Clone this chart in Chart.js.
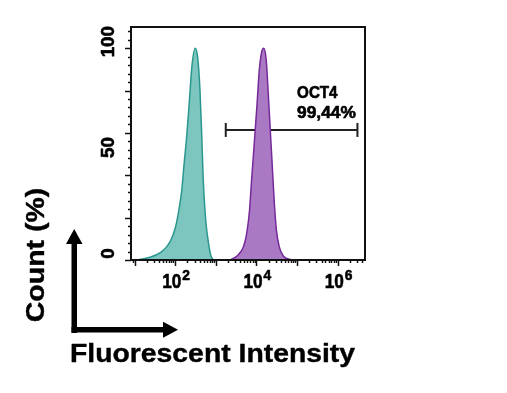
<!DOCTYPE html>
<html><head><meta charset="utf-8">
<script src="https://cdn.jsdelivr.net/npm/chart.js@4.4.1/dist/chart.umd.min.js"></script>
<style>html,body{margin:0;padding:0;background:#fff}</style>
</head><body>
<canvas id="c" width="507" height="393" style="display:block"></canvas>
<script>
// ---- data ----
const isotypeIntensity = [11, 24, 43, 62, 81, 102, 123, 145, 166, 191, 224, 257, 309, 355, 407, 447, 490, 562, 661, 759, 871];
const isotypeCount     = [0, 1.3, 3.5, 6.3, 10, 15.7, 23.6, 33, 45.7, 58, 75.6, 91.3, 100, 96, 80, 60, 37.8, 18.9, 7.9, 1.9, 0];
const oct4Intensity = [2239, 3548, 4786, 5754, 6761, 7586, 8710, 10233, 11749, 13490, 15136, 17378, 19498, 21878, 24547, 27542, 30903, 36308, 45709, 67608, 89125];
const oct4Count     = [0, 2.4, 6.3, 12.6, 23.6, 37.8, 53.5, 72.4, 89.7, 98.4, 100, 94.5, 78.7, 61.4, 44, 26.8, 14.2, 6.3, 1.9, 0.3, 0];
const gateRange = [1754, 3060000];
const gateLevel = 61.4;
const gateLabel = ['OCT4', '99,44%'];
const yTickLabels = [0, 50, 100];
const yMajorTicks = [0, 20, 40, 60, 80, 100];
const yMinorStep = 4;
const xLabelExponents = [2, 4, 6];
const yAxisTitle = 'Count (%)';
const xAxisTitle = 'Fluorescent Intensity';

function pts(xs, ys) { return xs.map((x, i) => ({ x: x, y: ys[i] })); }

const FONT = '"Liberation Sans", Arial, sans-serif';

function drawText(ctx, s, x, y, size, opts) {
  opts = opts || {};
  ctx.save();
  ctx.translate(x, y);
  if (opts.rot) ctx.rotate(opts.rot);
  ctx.scale(opts.sx || 1, opts.sy || 1);
  ctx.font = 'bold ' + size + 'px ' + FONT;
  ctx.fillStyle = '#000';
  ctx.strokeStyle = '#000';
  ctx.lineWidth = opts.stroke || 0.6;
  ctx.lineJoin = 'round';
  ctx.textAlign = opts.align || 'left';
  ctx.textBaseline = 'alphabetic';
  ctx.fillText(s, 0, 0);
  ctx.strokeText(s, 0, 0);
  ctx.restore();
}

const decor = {
  id: 'decor',
  afterDatasetsDraw(chart) {
    const ctx = chart.ctx;
    const xs = chart.scales.x, ys = chart.scales.y;
    const a = chart.chartArea;
    ctx.save();
    ctx.strokeStyle = '#111';
    // frame
    ctx.lineWidth = 2;
    ctx.strokeRect(a.left, a.top, a.right - a.left, a.bottom - a.top);
    // y ticks
    ctx.lineWidth = 1.5;
    for (let v = 0; v <= ys.max; v += yMinorStep) {
      const py = Math.round(ys.getPixelForValue(v)) + 0.5;
      const len = yMajorTicks.includes(v) ? 6 : 3;
      ctx.beginPath(); ctx.moveTo(a.left - len, py); ctx.lineTo(a.left, py); ctx.stroke();
    }
    // x ticks (log)
    for (let d = 0; d <= 6; d++) {
      for (let m = 1; m <= 9; m++) {
        const v = m * Math.pow(10, d);
        if (v < xs.min || v > xs.max) continue;
        const px = Math.round(xs.getPixelForValue(v)) + 0.5;
        const len = m === 1 ? 6 : 3;
        ctx.beginPath(); ctx.moveTo(px, a.bottom); ctx.lineTo(px, a.bottom + len); ctx.stroke();
      }
    }
    ctx.restore();

    // y tick labels (rotated)
    yTickLabels.forEach(v => {
      const py = ys.getPixelForValue(v) - 6.5;
      drawText(ctx, String(v), a.left - 17.5, py, 17.5, { rot: -Math.PI / 2, align: 'center', sx: 1.07 });
    });
    // x tick labels 10^n
    xLabelExponents.forEach(e => {
      const px = xs.getPixelForValue(Math.pow(10, e));
      drawText(ctx, '10', px - 13, a.bottom + 27.5, 21, { sx: 0.82 });
      drawText(ctx, String(e), px + 7, a.bottom + 20.3, 14.5, { sx: 0.95 });
    });

    // gate label
    const gx = xs.getPixelForValue(1.0e5);
    drawText(ctx, gateLabel[0], gx, ys.getPixelForValue(76.6), 16.5, { sx: 0.92 });
    drawText(ctx, gateLabel[1], gx, ys.getPixelForValue(67.2), 16.5, { sx: 1.05 });

    // axis titles and arrows (outside the plot)
    ctx.save();
    ctx.fillStyle = '#000';
    ctx.fillRect(71.5, 243, 5.5, 90);      // vertical shaft
    ctx.fillRect(71.5, 327, 93, 5.5);      // horizontal shaft
    ctx.beginPath(); ctx.moveTo(74.2, 229); ctx.lineTo(82.5, 244); ctx.lineTo(66, 244); ctx.closePath(); ctx.fill();
    ctx.beginPath(); ctx.moveTo(178, 329.7); ctx.lineTo(163, 321.7); ctx.lineTo(163, 337.7); ctx.closePath(); ctx.fill();
    ctx.restore();
    drawText(ctx, yAxisTitle, 43.5, 255, 25, { rot: -Math.PI / 2, align: 'center', sx: 1.14, stroke: 0.4 });
    drawText(ctx, xAxisTitle, 70, 361.7, 26, { sx: 1.09, stroke: 0.4 });
  }
};

new Chart(document.getElementById('c'), {
  type: 'scatter',
  data: {
    datasets: [
      {
        data: pts(isotypeIntensity, isotypeCount),
        showLine: true, fill: 'origin',
        backgroundColor: 'rgba(125,197,191,1)', borderColor: '#2a978f', borderWidth: 1.5,
        pointRadius: 0, cubicInterpolationMode: 'monotone'
      },
      {
        data: pts(oct4Intensity, oct4Count),
        showLine: true, fill: 'origin',
        backgroundColor: 'rgba(170,121,196,1)', borderColor: '#76299a', borderWidth: 1.5,
        pointRadius: 0, cubicInterpolationMode: 'monotone'
      },
      {
        data: [{ x: gateRange[0], y: gateLevel }, { x: gateRange[1], y: gateLevel }],
        showLine: true, fill: false,
        borderColor: '#222', borderWidth: 2,
        pointStyle: 'line', rotation: 90, pointRadius: 7, pointBorderWidth: 2,
        pointBorderColor: '#222', pointBackgroundColor: '#222'
      }
    ]
  },
  options: {
    responsive: false,
    animation: false,
    devicePixelRatio: 1,
    layout: { padding: { left: 131, top: 27, right: 142, bottom: 133 } },
    plugins: { legend: { display: false }, tooltip: { enabled: false } },
    scales: {
      x: { type: 'logarithmic', min: 8.15, max: 4.7e6, display: false },
      y: { type: 'linear', min: 0, max: 110, display: false }
    }
  },
  plugins: [decor]
});
</script>
</body></html>
